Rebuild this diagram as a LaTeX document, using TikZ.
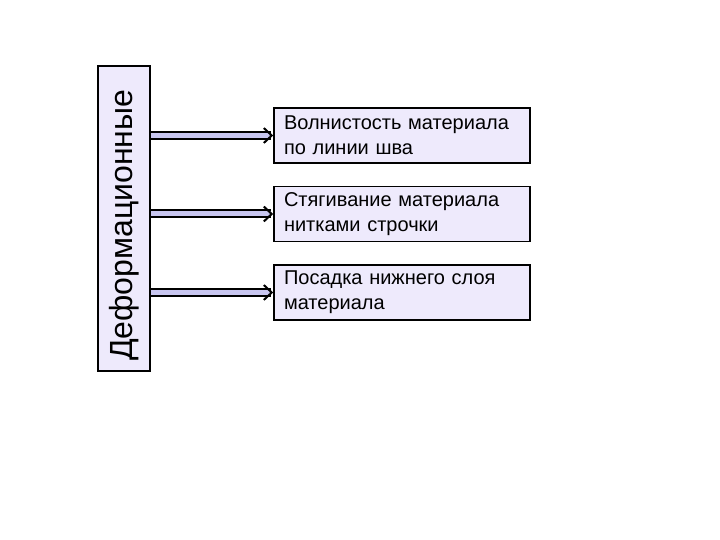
\documentclass[tikz,border=0pt]{standalone}
\usepackage{fontspec}
\setmainfont{Liberation Sans}
\usetikzlibrary{arrows.meta}
\definecolor{boxfill}{RGB}{238,234,252}
\definecolor{arrowfill}{RGB}{200,198,240}
\tikzset{
	groupbox/.style={draw, line width=1.5pt, fill=boxfill, text width=285pt, inner xsep=10pt, align=left, minimum height=52pt, inner ysep=0pt, font=\fontsize{32}{38}\selectfont},
	itembox/.style={draw, line width=1.5pt, fill=boxfill, minimum height=55pt, text width=236pt, inner xsep=10pt, align=left, font=\fontsize{20}{25}\selectfont},
	link/.style={line width=2pt, double=arrowfill, double distance=5pt},
	head/.style={line width=2pt, line cap=round, -{Straight Barb[length=8pt, width=15pt]}}
}
\begin{document}
\begin{tikzpicture}[x=1pt, y=1pt]
		%%%%% START %%%%%
		\useasboundingbox (0, 0) rectangle (720, 540);
		
		\node[groupbox, rotate=90] (deform) at (124, 321.5) {Деформационные};
		
		\node[itembox] (wave) at (402, 404.5) {Волнистость материала\\по линии шва};
		\node[itembox] (pull) at (402, 326) {Стягивание материала\\нитками строчки};
		\node[itembox] (ease) at (402, 247.5) {Посадка нижнего слоя\\материала};
		
		\foreach \item in {wave, pull, ease} {
			\draw[link] (deform.south |- \item.west) -- ([xshift=-2pt]\item.west);
			\draw[head] ([xshift=-3pt]\item.west) -- (\item.west);
		}
		
		%%%%% END %%%%%
	\end{tikzpicture}
\end{document}
